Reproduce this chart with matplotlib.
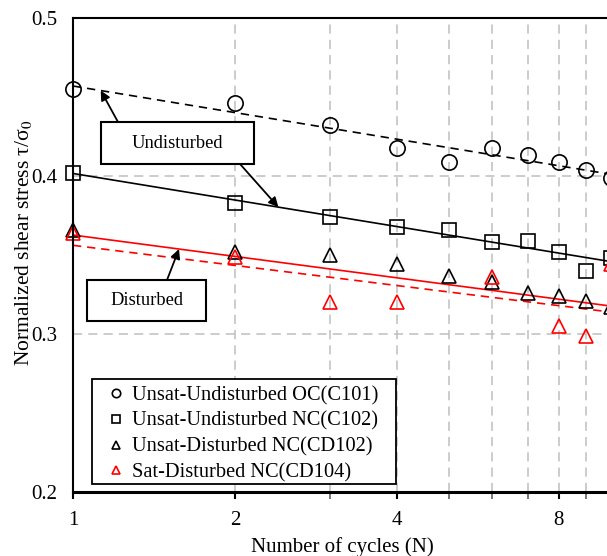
import numpy as np
import matplotlib.pyplot as plt
from matplotlib.patches import Rectangle

plt.rcParams['font.family'] = ['Liberation Serif', 'DejaVu Serif']
plt.rcParams['mathtext.fontset'] = 'stix'

# cycle numbers and normalized shear stress per test
cycles = [1, 2, 3, 4, 5, 6, 7, 8, 9, 10]
c101 = [0.455, 0.446, 0.432, 0.418, 0.409, 0.418, 0.413, 0.409, 0.404, 0.399]
c102 = [0.402, 0.383, 0.374, 0.368, 0.366, 0.358, 0.359, 0.352, 0.340, 0.348]
cd102 = [0.366, 0.352, 0.350, 0.344, 0.337, 0.333, 0.326, 0.324, 0.321, 0.317]
cd104_cycles = [1, 2, 3, 4, 6, 8, 9, 10]
cd104 = [0.364, 0.349, 0.320, 0.320, 0.336, 0.305, 0.299, 0.344]

labels = ['Unsat-Undisturbed OC(C101)', 'Unsat-Undisturbed NC(C102)',
          'Unsat-Disturbed NC(CD102)', 'Sat-Disturbed NC(CD104)']
x_ticks = [1, 2, 4, 8]
x_minor = [3, 5, 6, 7, 9]
y_ticks = [0.2, 0.3, 0.4, 0.5]


def log_fit(x, y):
    b, a = np.polyfit(np.log(x), y, 1)
    return lambda n: a + b * np.log(n)


fit_c101 = log_fit(cycles, c101)
fit_c102 = log_fit(cycles, c102)
fit_cd104 = log_fit(cd104_cycles, cd104)
fit_dist = log_fit(cycles + cd104_cycles, cd102 + cd104)

fig = plt.figure(figsize=(6.07, 5.56), dpi=100)
ax = fig.add_axes([0.1203, 0.1151, 0.8863, 0.8525])
ax.set_xscale('log')
ax.set_xlim(1, 10)
ax.set_ylim(0.2, 0.5)

# dashed grid at each cycle and at interior stress levels
for n in cycles[1:]:
    ax.axvline(n, color='#bfbfbf', lw=1.1, ls=(0, (6, 4)), zorder=0)
for v in y_ticks[1:-1]:
    ax.axhline(v, color='#bfbfbf', lw=1.1, ls=(0, (6, 4)), zorder=0)

xx = np.logspace(0, 1, 100)
ax.plot(xx, fit_c101(xx), color='black', lw=1.2, ls=(0, (5, 3.5)))
ax.plot(xx, fit_c102(xx), color='black', lw=1.2)
ax.plot(xx, fit_dist(xx), color='red', lw=1.2)
ax.plot(xx, fit_cd104(xx), color='red', lw=1.2, ls=(0, (5, 3.5)))

mk = dict(ls='none', mfc='none', mew=1.2, clip_on=False)
ax.plot(cycles, c101, marker='o', ms=11, mec='black', label=labels[0], **mk)
ax.plot(cycles, c102, marker='s', ms=10, mec='black', label=labels[1], **mk)
ax.plot(cycles, cd102, marker='^', ms=9.5, mec='black', label=labels[2], **mk)
ax.plot(cd104_cycles, cd104, marker='^', ms=9.5, mec='red', label=labels[3], **mk)

# callout boxes
ax.add_patch(Rectangle((0.052, 0.692), 0.2844, 0.0886, transform=ax.transAxes,
                       fc='white', ec='black', lw=1.5, zorder=5))
ax.text(0.194, 0.736, 'Undisturbed', transform=ax.transAxes, ha='center',
        va='center', fontsize=13.3, zorder=6)
ax.add_patch(Rectangle((0.026, 0.3608), 0.2212, 0.0865, transform=ax.transAxes,
                       fc='white', ec='black', lw=1.5, zorder=5))
ax.text(0.1366, 0.404, 'Disturbed', transform=ax.transAxes, ha='center',
        va='center', fontsize=13.3, zorder=6)

arrow = dict(arrowstyle='-|>', color='black', lw=1.3, mutation_scale=14,
             shrinkA=0, shrinkB=0)
ax.annotate('', xy=(1.126, fit_c101(1.126)), xytext=(0.0836, 0.7806),
            textcoords='axes fraction', arrowprops=arrow, zorder=6)
ax.annotate('', xy=(2.408, fit_c102(2.408)), xytext=(0.3104, 0.692),
            textcoords='axes fraction', arrowprops=arrow, zorder=6)
ax.annotate('', xy=(1.574, fit_dist(1.574)), xytext=(0.1747, 0.4473),
            textcoords='axes fraction', arrowprops=arrow, zorder=6)

ax.set_xticks(x_ticks, [str(t) for t in x_ticks])
ax.set_xticks(x_minor, minor=True)
ax.xaxis.set_minor_formatter(plt.NullFormatter())
ax.tick_params(axis='x', which='major', direction='out', length=5, width=1.5,
               labelsize=15, pad=9)
ax.tick_params(axis='x', which='minor', direction='out', length=5, width=1.2,
               color='#606060')
ax.set_yticks(y_ticks, [f'{v:.1f}' for v in y_ticks])
ax.tick_params(axis='y', length=0, labelsize=15, pad=11)

for side, lw in [('left', 1.5), ('bottom', 2.2), ('top', 1.5)]:
    ax.spines[side].set_linewidth(lw)
ax.spines['right'].set_visible(False)

ax.set_xlabel('Number of cycles (N)', fontsize=15, labelpad=4.5)
ax.set_ylabel('Normalized shear stress τ/σ$_0$', fontsize=15.5)
ax.yaxis.set_label_coords(-0.0725, 0.525)

# legend frame drawn separately so the side padding can be wider
ax.add_patch(Rectangle((0.0353, 0.0169), 0.565, 0.2215, transform=ax.transAxes,
                       fc='white', ec='black', lw=1.3, zorder=7))
leg = ax.legend(loc='lower left', bbox_to_anchor=(0.0688, 0.02), borderaxespad=0,
                fontsize=14.7, frameon=False, handlelength=0.6,
                handletextpad=0.49, labelspacing=0.32, borderpad=0,
                markerscale=0.55)
leg.set_zorder(8)

fig.savefig('out.png', dpi=100)
